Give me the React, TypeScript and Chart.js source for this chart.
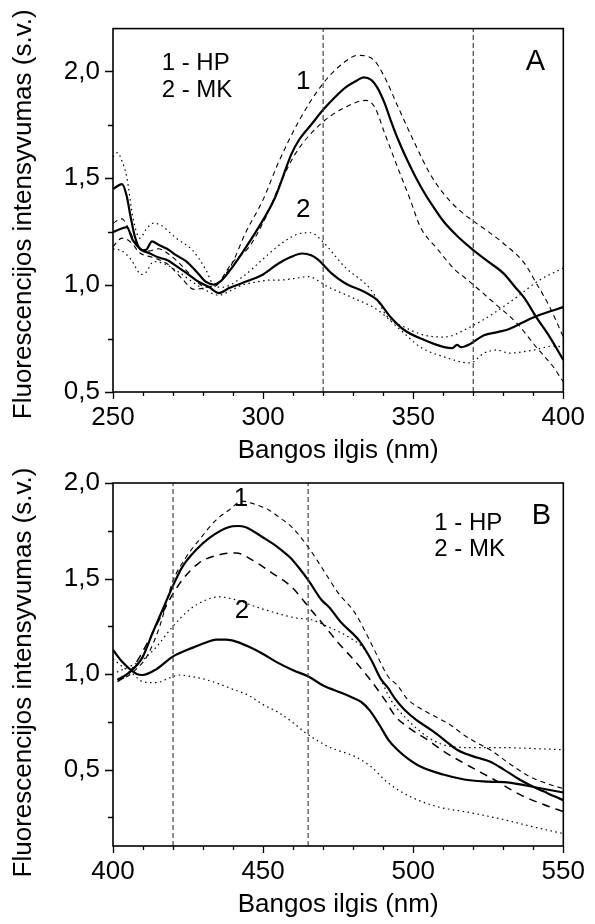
import React, { useEffect, useRef } from 'react';
import { Chart, registerables } from 'chart.js';
Chart.register(...registerables);

const FONT = "'Liberation Sans', Arial, Helvetica, sans-serif";

// ---------- Panel A (250–400 nm) ----------
const A_HP_NM = [250, 253, 254.5, 256, 257.3, 259.5, 261, 263, 265, 268, 271, 274.5, 278, 281, 283.5, 286, 289, 293, 298.5, 304, 309.5, 312, 316, 320, 324, 327.5, 331, 333.5, 336, 338, 340.5, 342.5, 345, 348, 351, 354, 357, 360, 365, 370, 375, 380, 384, 387, 391, 395.5, 400];
const A_HP = [1.45, 1.472, 1.42, 1.31, 1.226, 1.164, 1.165, 1.205, 1.19, 1.17, 1.14, 1.11, 1.06, 1.015, 1.003, 1.02, 1.07, 1.15, 1.27, 1.41, 1.615, 1.68, 1.75, 1.82, 1.88, 1.925, 1.955, 1.972, 1.96, 1.925, 1.85, 1.771, 1.68, 1.585, 1.5, 1.425, 1.36, 1.3, 1.225, 1.164, 1.11, 1.056, 0.99, 0.94, 0.85, 0.757, 0.65];

const A_HP_UP_NM = [250, 253, 255, 257, 259, 262, 265, 269, 273, 277, 281, 284, 287, 290, 294, 300, 305, 312, 320, 327, 331.5, 337, 340.5, 345, 350.5, 355.5, 360, 365, 370, 375, 380, 387, 391, 395.5, 400];
const A_HP_UP = [1.29, 1.31, 1.27, 1.21, 1.17, 1.16, 1.17, 1.14, 1.09, 1.03, 0.99, 0.995, 1.04, 1.11, 1.24, 1.4, 1.57, 1.77, 1.944, 2.042, 2.075, 2.051, 1.972, 1.832, 1.664, 1.523, 1.43, 1.355, 1.3, 1.25, 1.196, 1.103, 1.009, 0.897, 0.757];

const A_HP_LO_NM = [250, 253, 256, 259, 263, 268, 273, 277, 281, 285, 289.6, 295.3, 300.9, 306.2, 311, 319.4, 327.3, 334.2, 337.2, 340.5, 344.8, 349, 352.4, 358, 364, 367, 377, 384.5, 391, 396.7, 400];
const A_HP_LO = [1.18, 1.22, 1.2, 1.15, 1.13, 1.1, 1.03, 0.98, 0.99, 1.01, 1.103, 1.178, 1.318, 1.491, 1.62, 1.757, 1.832, 1.864, 1.832, 1.71, 1.551, 1.4, 1.271, 1.17, 1.07, 1.037, 0.916, 0.822, 0.71, 0.617, 0.547];

const A_MK_NM = [250, 252, 254.6, 256.6, 259.6, 262, 265, 268, 271, 274.5, 278, 282, 285.3, 288.7, 295, 300, 305, 309, 313, 316, 318.5, 322.7, 327.3, 334, 338, 342.5, 347, 353.7, 360.3, 363, 364.6, 366, 369, 373.6, 378, 382, 388, 392, 400];
const A_MK = [1.248, 1.26, 1.271, 1.21, 1.164, 1.15, 1.13, 1.117, 1.09, 1.056, 1.02, 0.991, 0.963, 0.986, 1.02, 1.05, 1.1, 1.13, 1.148, 1.14, 1.117, 1.056, 1.009, 0.967, 0.93, 0.85, 0.79, 0.743, 0.71, 0.705, 0.72, 0.71, 0.725, 0.766, 0.78, 0.795, 0.836, 0.86, 0.897];

const A_MK_UP_NM = [250, 251.5, 253, 254.6, 256.6, 259, 261, 263.5, 266, 271, 276.4, 281, 283, 286.3, 293, 299.6, 306.2, 312.8, 316, 319.4, 327.3, 336, 341.5, 347, 353.7, 360.3, 369, 376.9, 384.5, 392, 400];
const A_MK_UP = [1.6, 1.62, 1.58, 1.505, 1.318, 1.22, 1.26, 1.29, 1.28, 1.22, 1.164, 1.07, 1.01, 0.99, 1.037, 1.117, 1.196, 1.243, 1.245, 1.21, 1.084, 0.977, 0.85, 0.804, 0.766, 0.757, 0.804, 0.869, 0.944, 1.023, 1.08];

const A_MK_LO_NM = [250, 253, 256, 259.5, 261, 263.5, 267, 272, 277, 281, 285.3, 290, 293, 298, 302, 305, 310, 315, 321.7, 329.3, 338.2, 345.8, 352.4, 360.3, 369, 373.6, 377.9, 382.1, 390, 396.7, 400];
const A_MK_LO = [1.17, 1.16, 1.12, 1.05, 1.06, 1.11, 1.1, 1.06, 1.01, 0.975, 0.953, 0.98, 1.0, 1.015, 1.023, 1.023, 1.03, 1.04, 0.991, 0.944, 0.883, 0.79, 0.71, 0.664, 0.636, 0.682, 0.696, 0.682, 0.696, 0.715, 0.71];

const A_VLINES = [320, 370];

// ---------- Panel B (400–550 nm) ----------
const B_HP_NM = [401.5, 405.6, 409.9, 413.2, 416.5, 419.8, 423.1, 427.7, 432, 438.7, 441.5, 444.3, 447, 450, 453, 456, 459, 462, 465.1, 469.4, 472, 476, 482, 486, 489.2, 491.5, 494, 497.1, 501, 505.7, 510, 514.6, 518, 521.2, 525.5, 530.2, 535.4, 540, 543.4, 547, 550];
const B_HP = [0.97, 1.01, 1.09, 1.216, 1.336, 1.456, 1.561, 1.65, 1.712, 1.77, 1.775, 1.768, 1.745, 1.715, 1.685, 1.65, 1.61, 1.555, 1.49, 1.389, 1.35, 1.27, 1.175, 1.075, 0.975, 0.93, 0.87, 0.813, 0.76, 0.71, 0.66, 0.604, 0.58, 0.563, 0.542, 0.5, 0.448, 0.41, 0.386, 0.36, 0.34];

const B_HP_UP_NM = [401.5, 405, 408, 411.2, 415.5, 419.8, 424.4, 428.7, 434.4, 438.7, 443, 447, 451.9, 455.2, 459.5, 465.1, 469.4, 475, 480.6, 484.9, 488.2, 491.5, 494.8, 498, 502.4, 507, 512.3, 517, 521.2, 526, 530.2, 534, 538.8, 544, 550];
const B_HP_UP = [0.97, 0.99, 1.03, 1.09, 1.247, 1.48, 1.613, 1.702, 1.807, 1.859, 1.905, 1.89, 1.859, 1.822, 1.77, 1.663, 1.561, 1.425, 1.32, 1.195, 1.09, 0.99, 0.94, 0.87, 0.82, 0.78, 0.735, 0.68, 0.64, 0.6, 0.552, 0.51, 0.463, 0.43, 0.4];

const B_HP_LO_NM = [401.5, 405, 408.9, 413.2, 418.8, 423.1, 428.7, 435.3, 441, 446.3, 452.9, 459.5, 465.1, 470.7, 475, 479.3, 484.9, 490.5, 494, 498.1, 504.7, 510.3, 518.9, 526.9, 535.4, 543.4, 550];
const B_HP_LO = [0.96, 1.0, 1.09, 1.216, 1.388, 1.493, 1.582, 1.624, 1.634, 1.598, 1.53, 1.456, 1.352, 1.247, 1.164, 1.09, 0.986, 0.866, 0.78, 0.724, 0.656, 0.594, 0.516, 0.448, 0.37, 0.317, 0.28];

const B_MK_NM = [400, 403.3, 407.9, 409.9, 414.5, 419.8, 426.4, 431, 434.4, 437.7, 441, 445.3, 450, 454.2, 460, 465.1, 470, 476, 479.3, 482.6, 485.5, 488.5, 492, 495, 498, 502.4, 510, 517, 525, 532, 541, 550];
const B_MK = [1.126, 1.06, 1.0, 0.995, 1.026, 1.09, 1.137, 1.165, 1.18, 1.18, 1.17, 1.143, 1.105, 1.065, 1.02, 0.987, 0.94, 0.902, 0.88, 0.855, 0.81, 0.74, 0.65, 0.6, 0.56, 0.516, 0.474, 0.448, 0.437, 0.432, 0.406, 0.38];

const B_MK_UP_NM = [401.3, 405.6, 409.9, 414.5, 419.8, 425.4, 431, 435.3, 441, 447.6, 454.2, 460.8, 466.1, 471.7, 478.3, 483.9, 488.2, 492.5, 498.1, 504.7, 510, 520, 530, 540, 550];
const B_MK_UP = [1.01, 1.04, 1.075, 1.143, 1.247, 1.336, 1.388, 1.404, 1.388, 1.352, 1.32, 1.294, 1.284, 1.247, 1.195, 1.127, 1.006, 0.866, 0.761, 0.672, 0.63, 0.615, 0.615, 0.61, 0.604];

const B_MK_LO_NM = [400, 403, 406.6, 409.9, 414.5, 418.8, 422.1, 426.4, 430, 435, 440, 445, 450, 455, 460, 464.1, 471.7, 480.6, 485.9, 491.5, 499.1, 508, 518.9, 530.2, 541.1, 550];
const B_MK_LO = [1.08, 1.04, 1.0, 0.96, 0.955, 0.98, 0.995, 0.986, 0.975, 0.95, 0.92, 0.89, 0.84, 0.8, 0.745, 0.693, 0.62, 0.568, 0.516, 0.432, 0.358, 0.306, 0.275, 0.238, 0.196, 0.165];

const B_VLINES = [420, 465];

const X_TITLE = 'Bangos ilgis (nm)';
const Y_TITLE = 'Fluorescencijos intensyvumas (s.v.)';
const LEGEND_LINES = ['1 - HP', '2 - MK'];

const pts = (xs: number[], ys: number[]) => xs.map((x, i) => ({ x, y: ys[i] }));

const fmt = (v: number) => Number(v).toFixed(1).replace('.', ',');

const decorPlugin = {
  id: 'decor',
  afterDraw(chart: any, _args: any, opts: any) {
    const { ctx, chartArea: ca, scales } = chart;
    const x = scales.x;
    const y = scales.y;
    ctx.save();
    ctx.strokeStyle = '#000';
    ctx.lineWidth = 1.6;
    ctx.strokeRect(ca.left, ca.top, ca.right - ca.left, ca.bottom - ca.top);
    ctx.lineWidth = 1.3;
    ctx.beginPath();
    for (let v = x.min; v <= x.max + 1e-6; v += 10) {
      const px = Math.round(x.getPixelForValue(v)) + 0.5;
      const major = Math.abs(v % 50) < 1e-6;
      ctx.moveTo(px, ca.bottom);
      ctx.lineTo(px, ca.bottom + (major ? 7 : 4));
    }
    const y0 = Math.ceil(y.min / 0.25 - 1e-6) * 0.25;
    for (let v = y0; v <= y.max + 1e-6; v += 0.25) {
      const py = Math.round(y.getPixelForValue(v)) + 0.5;
      const major = Math.abs((v * 2) - Math.round(v * 2)) < 1e-6;
      ctx.moveTo(ca.left, py);
      ctx.lineTo(ca.left - (major ? 8 : 5), py);
    }
    ctx.stroke();
    ctx.fillStyle = '#000';
    ctx.textBaseline = 'middle';
    for (const t of opts.texts || []) {
      ctx.font = `${t.size}px ${FONT}`;
      ctx.textAlign = t.align || 'center';
      ctx.fillText(t.text, x.getPixelForValue(t.x), y.getPixelForValue(t.y));
    }
    // rotated y-axis title
    ctx.save();
    ctx.font = `26px ${FONT}`;
    ctx.textAlign = 'center';
    ctx.textBaseline = 'middle';
    ctx.translate(24, (ca.top + ca.bottom) / 2 + (opts.yTitleShift || 0));
    ctx.rotate(-Math.PI / 2);
    ctx.fillText(Y_TITLE, 0, 0);
    ctx.restore();
    ctx.restore();
  },
};

type Panel = {
  xMin: number; xMax: number; yMin: number; yMax: number;
  padTop: number; padBottom: number; yTitleShift: number;
  hp: any[]; hpUp: any[]; hpLo: any[]; mk: any[]; mkUp: any[]; mkLo: any[];
  vlines: number[]; texts: any[]; loDash: number[]; loWidth: number;
};

function buildConfig(p: Panel): any {
  const vl = p.vlines.map((v) => ({
    data: [{ x: v, y: p.yMin }, { x: v, y: p.yMax }],
    borderColor: '#444', borderWidth: 1.2, borderDash: [5, 3], tension: 0,
    pointRadius: 0, pointHoverRadius: 0, cubicInterpolationMode: 'default',
  }));
  const common = { pointRadius: 0, pointHoverRadius: 0, fill: false, cubicInterpolationMode: 'monotone' };
  return {
    type: 'line',
    data: {
      datasets: [
        ...vl,
        { ...common, data: p.mkUp, borderColor: '#000', borderWidth: 1.2, borderDash: [1.5, 3.5] },
        { ...common, data: p.mkLo, borderColor: '#000', borderWidth: 1.2, borderDash: [1.5, 3.5] },
        { ...common, data: p.hpUp, borderColor: '#000', borderWidth: 1.1, borderDash: [5, 4] },
        { ...common, data: p.hpLo, borderColor: '#000', borderWidth: p.loWidth, borderDash: p.loDash },
        { ...common, data: p.mk, borderColor: '#000', borderWidth: 2.2 },
        { ...common, data: p.hp, borderColor: '#000', borderWidth: 2.2 },
      ],
    },
    options: {
      animation: false,
      responsive: false,
      maintainAspectRatio: false,
      layout: { padding: { top: p.padTop, right: 28, left: 0, bottom: p.padBottom } },
      plugins: {
        legend: { display: false },
        tooltip: { enabled: false },
        decor: { texts: p.texts, yTitleShift: p.yTitleShift },
      },
      scales: {
        x: {
          type: 'linear', min: p.xMin, max: p.xMax,
          afterFit: (s: any) => { s.height = 78; },
          grid: { display: false, drawTicks: false },
          border: { display: false },
          ticks: { stepSize: 50, padding: 10, color: '#000', maxRotation: 0, includeBounds: false, font: { family: FONT, size: 26 } },
          title: { display: true, text: X_TITLE, color: '#000', font: { family: FONT, size: 26 }, padding: { top: 0, bottom: 4 } },
        },
        y: {
          type: 'linear', min: p.yMin, max: p.yMax,
          afterFit: (s: any) => { s.width = 113; },
          grid: { display: false, drawTicks: false },
          border: { display: false },
          ticks: { stepSize: 0.5, padding: 13, color: '#000', includeBounds: false, font: { family: FONT, size: 26 }, callback: (v: any) => fmt(v) },
          title: { display: false },
        },
      },
    },
    plugins: [decorPlugin],
  };
}

const PANEL_A: Panel = {
  xMin: 250, xMax: 400, yMin: 0.5, yMax: 2.2, padTop: 28, padBottom: 454, yTitleShift: 4,
  hp: pts(A_HP_NM, A_HP), hpUp: pts(A_HP_UP_NM, A_HP_UP), hpLo: pts(A_HP_LO_NM, A_HP_LO),
  mk: pts(A_MK_NM, A_MK), mkUp: pts(A_MK_UP_NM, A_MK_UP), mkLo: pts(A_MK_LO_NM, A_MK_LO),
  vlines: A_VLINES, loDash: [5, 4], loWidth: 1.1,
  texts: [
    { text: LEGEND_LINES[0], x: 266.2, y: 2.037, size: 24, align: 'left' },
    { text: LEGEND_LINES[1], x: 266.2, y: 1.911, size: 24, align: 'left' },
    { text: 'A', x: 390.7, y: 2.042, size: 29 },
    { text: '1', x: 313.4, y: 1.953, size: 26 },
    { text: '2', x: 313.4, y: 1.35, size: 26 },
  ],
};

const PANEL_B: Panel = {
  xMin: 400, xMax: 550, yMin: 0.1, yMax: 2.0, padTop: 483, padBottom: 0, yTitleShift: 8,
  hp: pts(B_HP_NM, B_HP), hpUp: pts(B_HP_UP_NM, B_HP_UP), hpLo: pts(B_HP_LO_NM, B_HP_LO),
  mk: pts(B_MK_NM, B_MK), mkUp: pts(B_MK_UP_NM, B_MK_UP), mkLo: pts(B_MK_LO_NM, B_MK_LO),
  vlines: B_VLINES, loDash: [8, 6], loWidth: 1.5,
  texts: [
    { text: LEGEND_LINES[0], x: 507, y: 1.791, size: 24, align: 'left' },
    { text: LEGEND_LINES[1], x: 507, y: 1.65, size: 24, align: 'left' },
    { text: 'B', x: 542.7, y: 1.827, size: 29 },
    { text: '1', x: 442.6, y: 1.916, size: 26 },
    { text: '2', x: 443, y: 1.33, size: 26 },
  ],
};

function PanelCanvas({ panel }: { panel: Panel }) {
  const ref = useRef<HTMLCanvasElement | null>(null);
  useEffect(() => {
    if (!ref.current) return;
    const chart = new Chart(ref.current, buildConfig(panel));
    return () => chart.destroy();
  }, [panel]);
  return (
    <canvas
      ref={ref}
      width={595}
      height={924}
      style={{ position: 'absolute', left: 0, top: 0, width: 595, height: 924 }}
    />
  );
}

export default function App() {
  return (
    <div style={{ position: 'absolute', left: 0, top: 0, width: 595, height: 924, background: '#fff', overflow: 'hidden' }}>
      <PanelCanvas panel={PANEL_A} />
      <PanelCanvas panel={PANEL_B} />
    </div>
  );
}
